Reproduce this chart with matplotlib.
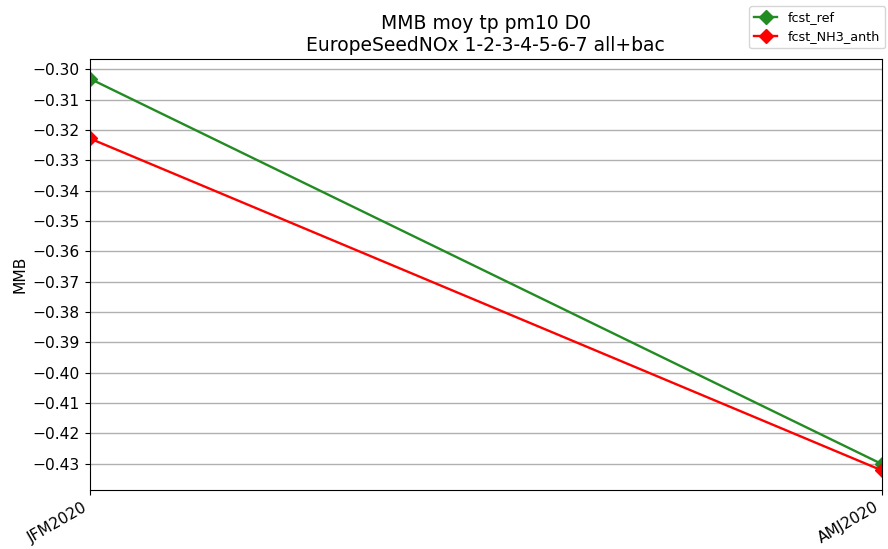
import matplotlib
matplotlib.use("Agg")
import matplotlib.pyplot as plt
from matplotlib.ticker import MultipleLocator

# Seasonal mean bias of pm10, D0 forecast
periods = ["JFM2020", "AMJ2020"]
mmb_ref = [-0.3031, -0.4301]
mmb_nh3_anth = [-0.3228, -0.4322]

series = [
    ("fcst_ref", mmb_ref, "forestgreen"),
    ("fcst_NH3_anth", mmb_nh3_anth, "red"),
]


def main():
    fig = plt.figure(figsize=(8.88, 5.49), dpi=100)
    ax = fig.add_axes([0.101, 0.1075, 0.892, 0.785])

    x = list(range(len(periods)))
    for name, vals, col in series:
        ax.plot(x, vals, marker="D", color=col, label=name, markersize=7.5, linewidth=1.7)

    ax.set_xlim(0, len(periods) - 1)
    ax.set_xticks(x)
    ax.set_xticklabels(periods)
    ax.yaxis.set_major_locator(MultipleLocator(0.01))
    ax.yaxis.grid(True, color="#b0b0b0", linewidth=1)
    ax.set_axisbelow(True)
    ax.tick_params(labelsize=11.2)
    ax.set_ylabel("MMB", fontsize=11.2)
    ax.set_title("MMB moy tp pm10 D0\nEuropeSeedNOx 1-2-3-4-5-6-7 all+bac", fontsize=13.5)

    for lbl in ax.get_xticklabels():
        lbl.set_rotation(30)
        lbl.set_ha("right")

    fig.legend(loc="upper right", fontsize=9.2, bbox_to_anchor=(1.004, 1.0),
               handlelength=1.8, labelspacing=0.45)
    fig.savefig("out.png", dpi=100)
    plt.close(fig)


if __name__ == "__main__":
    main()
